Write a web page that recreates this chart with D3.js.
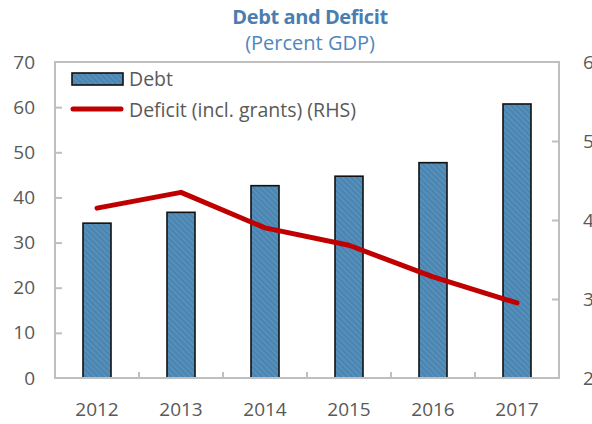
<!DOCTYPE html>
<html>
<head>
<meta charset="utf-8">
<script src="https://cdn.jsdelivr.net/npm/d3@7"></script>
<style>
  body { margin: 0; background: #fff; }
  svg { display: block; font-family: "Open Sans", sans-serif; }
</style>
</head>
<body>
<div id="chart"></div>
<script>
// Chart data
const years = ["2012", "2013", "2014", "2015", "2016", "2017"];
const debt = [34.3, 36.7, 42.6, 44.7, 47.7, 60.7];
const deficit = [4.15, 4.35, 3.9, 3.68, 3.28, 2.95];
const leftTicks = [0, 10, 20, 30, 40, 50, 60, 70];
const rightTicks = [2, 3, 4, 5, 6];

const width = 592, height = 424;
const plot = { left: 55, right: 559, top: 62, bottom: 378 };

const svg = d3.select("#chart").append("svg")
    .attr("width", width)
    .attr("height", height);

// Hatched fill for the bars
const defs = svg.append("defs");
const pat = defs.append("pattern")
    .attr("id", "hatch")
    .attr("patternUnits", "userSpaceOnUse")
    .attr("width", 4)
    .attr("height", 4)
    .attr("patternTransform", "rotate(-45)");
pat.append("rect").attr("width", 4).attr("height", 4).attr("fill", "#4a84b0");
pat.append("rect").attr("width", 1.5).attr("height", 4).attr("fill", "#5a93bd");

const x = d3.scaleBand()
    .domain(years)
    .range([plot.left, plot.right])
    .paddingInner(0)
    .paddingOuter(0);

const yL = d3.scaleLinear().domain([0, 70]).range([plot.bottom, plot.top]);
const yR = d3.scaleLinear().domain([2, 6]).range([plot.bottom, plot.top]);

const gray = "#bfbfbf";
const textCol = "#595959";

// Titles
svg.append("text")
    .attr("x", 310).attr("y", 24)
    .attr("text-anchor", "middle")
    .attr("font-size", 20)
    .attr("font-weight", "bold")
    .attr("fill", "#4a7eb0")
    .style("letter-spacing", "-0.4px")
    .text("Debt and Deficit");

svg.append("text")
    .attr("x", 310).attr("y", 50)
    .attr("text-anchor", "middle")
    .attr("font-size", 20)
    .attr("fill", "#4f86bd")
    .text("(Percent GDP)");

// Bars
const barW = 28;
svg.append("g").selectAll("rect")
    .data(years)
    .join("rect")
    .attr("x", (d) => x(d) + x.bandwidth() / 2 - barW / 2)
    .attr("y", (d, i) => yL(debt[i]))
    .attr("width", barW)
    .attr("height", (d, i) => yL(0) - yL(debt[i]))
    .attr("fill", "url(#hatch)")
    .attr("stroke", "#111")
    .attr("stroke-width", 1.6);

// Frame
svg.append("rect")
    .attr("x", plot.left).attr("y", plot.top)
    .attr("width", plot.right - plot.left)
    .attr("height", plot.bottom - plot.top)
    .attr("fill", "none")
    .attr("stroke", gray)
    .attr("stroke-width", 2);

// Left axis (ticks point inward)
const axL = svg.append("g")
    .attr("transform", `translate(${plot.left},0)`)
    .call(d3.axisLeft(yL).tickValues(leftTicks).tickSize(-7).tickPadding(20));
// Right axis
const axR = svg.append("g")
    .attr("transform", `translate(${plot.right},0)`)
    .call(d3.axisRight(yR).tickValues(rightTicks).tickSize(-7).tickPadding(24)
        .tickFormat(d3.format("d")));
// Bottom axis: ticks between categories
const bounds = years.slice(1).map((d) => x(d));
const axB = svg.append("g")
    .attr("transform", `translate(0,${plot.bottom})`)
    .call(d3.axisBottom(x).tickSize(0).tickPadding(25));
svg.append("g").selectAll("line")
    .data(bounds)
    .join("line")
    .attr("x1", (d) => d).attr("x2", (d) => d)
    .attr("y1", plot.bottom).attr("y2", plot.bottom - 6)
    .attr("stroke", gray).attr("stroke-width", 2);

[axL, axR, axB].forEach((ax) => {
    ax.select(".domain").remove();
    ax.selectAll(".tick line").attr("stroke", gray).attr("stroke-width", 2);
    ax.selectAll(".tick text")
        .attr("font-size", 19)
        .attr("fill", textCol)
        .attr("font-family", "Open Sans, sans-serif");
});
axR.selectAll(".tick text").attr("text-anchor", "start");
// ends of the left/right tick lists sit on the frame, no marks there
axL.selectAll(".tick line").filter((d) => d === 0 || d === 70).remove();
axR.selectAll(".tick line").filter((d) => d === 2 || d === 6).remove();

// Deficit line (RHS)
const line = d3.line()
    .x((d, i) => x(years[i]) + x.bandwidth() / 2)
    .y((d) => yR(d));

svg.append("path")
    .datum(deficit)
    .attr("d", line)
    .attr("fill", "none")
    .attr("stroke", "#c00000")
    .attr("stroke-width", 5)
    .attr("stroke-linejoin", "round")
    .attr("stroke-linecap", "round");

// Legend
const legend = svg.append("g");
legend.append("rect")
    .attr("x", 72).attr("y", 73)
    .attr("width", 51).attr("height", 12)
    .attr("fill", "url(#hatch)")
    .attr("stroke", "#111")
    .attr("stroke-width", 1.6);
legend.append("text")
    .attr("x", 129).attr("y", 86)
    .attr("font-size", 19.5)
    .attr("fill", textCol)
    .text("Debt");
legend.append("line")
    .attr("x1", 73).attr("x2", 121)
    .attr("y1", 109).attr("y2", 109)
    .attr("stroke", "#c00000")
    .attr("stroke-width", 5)
    .attr("stroke-linecap", "round");
legend.append("text")
    .attr("x", 129).attr("y", 116.5)
    .attr("font-size", 19.5)
    .attr("fill", textCol)
    .text("Deficit (incl. grants) (RHS)");
</script>
</body>
</html>
